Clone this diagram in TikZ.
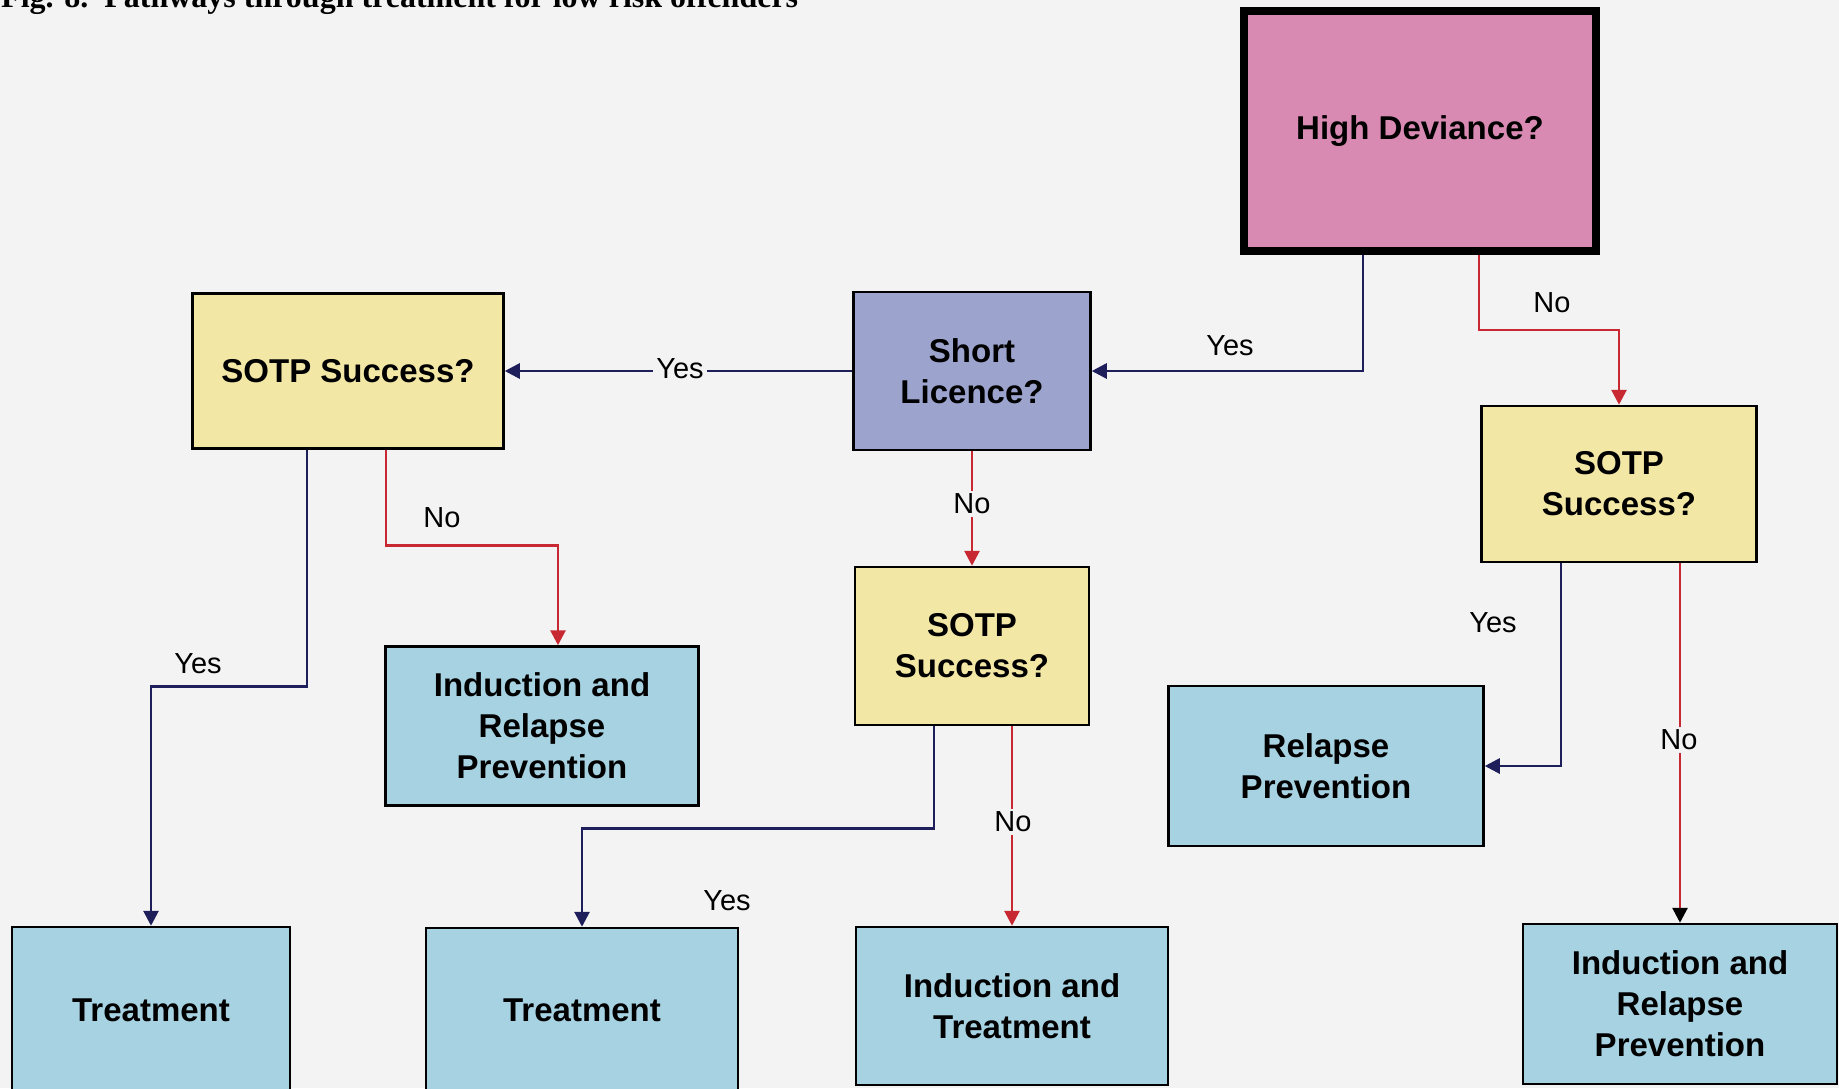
\documentclass[tikz,border=0pt]{standalone}
\usepackage{fontspec}
\setmainfont{Liberation Sans}
\newfontfamily\titlefont{Liberation Serif}
\usetikzlibrary{arrows.meta}
\definecolor{bgc}{RGB}{243,243,243}
\definecolor{navyc}{RGB}{30,30,90}
\definecolor{redc}{RGB}{200,40,50}
\definecolor{pinkc}{RGB}{216,138,178}
\definecolor{slatec}{RGB}{156,164,206}
\definecolor{yellowc}{RGB}{243,231,165}
\definecolor{cyanc}{RGB}{166,210,226}
\tikzset{
  box/.style={draw=black, line width=2.5pt, inner sep=0pt, align=center,
    font=\bfseries\fontsize{33}{41}\selectfont},
  pinkbox/.style={box, fill=pinkc, line width=8pt},
  slatebox/.style={box, fill=slatec},
  ybox/.style={box, fill=yellowc},
  cbox/.style={box, fill=cyanc},
  lbl/.style={font=\fontsize{29}{32}\selectfont, inner sep=1pt},
  lblbg/.style={lbl, fill=bgc, inner sep=3pt},
  navyarrow/.style={draw=navyc, line width=2.8pt, -{Triangle[length=15pt,width=15pt]}},
  redarrow/.style={draw=redc, line width=2.8pt, -{Triangle[length=15pt,width=15pt]}},
}
\begin{document}
\begin{tikzpicture}[x=1pt,y=-1pt]
\fill[bgc] (0,0) rectangle (1839,1088);
\useasboundingbox (0,0) rectangle (1839,1088);

\node[anchor=base west, inner sep=0pt, font=\titlefont\bfseries\fontsize{32}{34}\selectfont] (title) at (1,7)
  {Fig. 8.\ \ Pathways through treatment for low risk offenders};

\node[pinkbox, minimum width=352pt, minimum height=240pt] (hd) at (1420,131) {High Deviance?};
\node[slatebox, minimum width=237pt, minimum height=158pt] (sl) at (972,371) {Short\\Licence?};
\node[ybox, minimum width=311pt, minimum height=155pt] (sL) at (348,371) {SOTP Success?};
\node[ybox, minimum width=234pt, minimum height=158pt] (sm) at (972,646) {SOTP\\Success?};
\node[ybox, minimum width=275pt, minimum height=156pt] (sR) at (1619,484) {SOTP\\Success?};
\node[cbox, minimum width=313pt, minimum height=159pt] (iL) at (542,726) {Induction and\\Relapse\\Prevention};
\node[cbox, minimum width=315pt, minimum height=160pt] (rp) at (1326,766) {Relapse\\Prevention};
\node[cbox, minimum width=278pt, minimum height=166pt] (tL) at (151,1010) {Treatment};
\node[cbox, minimum width=312pt, minimum height=164pt] (tM) at (582,1010) {Treatment};
\node[cbox, minimum width=312pt, minimum height=158pt] (iT) at (1012,1006) {Induction and\\Treatment};
\node[cbox, minimum width=314pt, minimum height=160pt] (iR) at (1680,1004) {Induction and\\Relapse\\Prevention};

% connectors
\draw[navyarrow] ([xshift=-57pt]hd.south) |- (sl.east);
\draw[redarrow] ([xshift=59pt]hd.south) -- ++(0,75) -| (sR.north);
\draw[navyarrow] (sl.west) -- (sL.east);
\draw[redarrow] (sl.south) -- (sm.north);
\draw[navyarrow] ([xshift=-41pt]sL.south) -- ++(0,237) -| (tL.north);
\draw[redarrow] ([xshift=38pt]sL.south) -- ++(0,96) -| ([xshift=16pt]iL.north);
\draw[navyarrow] ([xshift=-38pt]sm.south) -- ++(0,102) -| (tM.north);
\draw[redarrow] (iT.north |- sm.south) -- (iT.north);
\draw[navyarrow] ([xshift=-58pt]sR.south) |- (rp.east);
\draw[draw=redc, line width=2.8pt, -{Triangle[length=15pt,width=15pt,fill=black,color=black]}] (iR.north |- sR.south) -- (iR.north);

% labels
\node[lbl] (l1) at (1230,346) {Yes};
\node[lbl] (l2) at (1552,303) {No};
\node[lblbg] (l3) at (680,369) {Yes};
\node[lblbg] (l4) at (972,504) {No};
\node[lbl] (l5) at (442,518) {No};
\node[lbl] (l6) at (198,664) {Yes};
\node[lbl] (l7) at (727,901) {Yes};
\node[lblbg] (l8) at (1013,822) {No};
\node[lbl] (l9) at (1493,623) {Yes};
\node[lblbg] (l10) at (1679,740) {No};
\end{tikzpicture}
\end{document}
